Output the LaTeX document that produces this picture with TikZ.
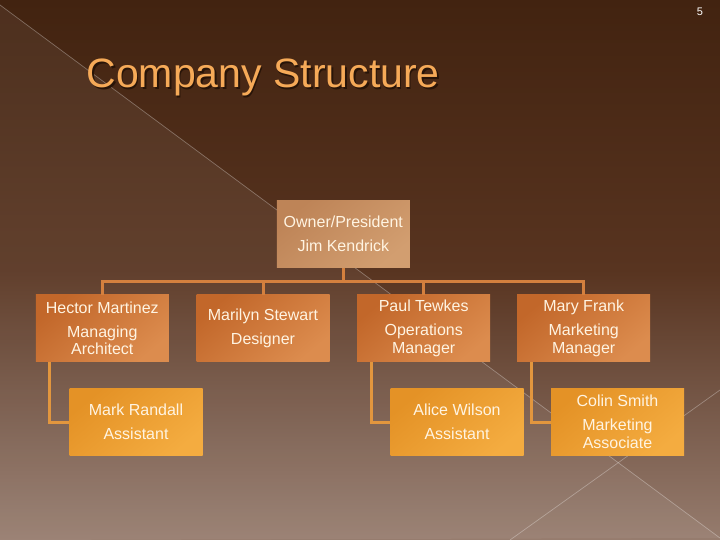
\documentclass[tikz,border=0pt]{standalone}
\usepackage{fontspec}
\setmainfont{Liberation Sans}
\usepackage{tikz}
\definecolor{bgtop}{RGB}{66,35,16}
\definecolor{bgmid}{RGB}{88,52,32}
\definecolor{bglow}{RGB}{118,88,72}
\definecolor{bgbot}{RGB}{150,124,110}
\definecolor{titleorange}{RGB}{246,170,88}
\definecolor{titleshadow}{RGB}{40,20,8}
\definecolor{ownerA}{RGB}{190,132,87}
\definecolor{ownerB}{RGB}{210,158,112}
\definecolor{midA}{RGB}{194,103,42}
\definecolor{midB}{RGB}{220,140,78}
\definecolor{lowA}{RGB}{228,146,38}
\definecolor{lowB}{RGB}{244,172,64}
\definecolor{busline}{RGB}{212,128,62}
\definecolor{subline}{RGB}{226,150,62}
\definecolor{cream}{RGB}{255,244,226}
\pgfdeclareverticalshading{slidebg}{100bp}{color(0bp)=(bgbot); color(25bp)=(bgbot); color(37.5bp)=(bglow); color(50bp)=(bgmid); color(75bp)=(bgtop); color(100bp)=(bgtop)}
\tikzset{
  orgbox/.style={minimum width=133pt, minimum height=67pt, inner sep=0pt, align=center,
    text=cream, font=\fontsize{16}{17.5}\selectfont},
  ownerbox/.style={orgbox, top color=ownerA, bottom color=ownerB, shading angle=40},
  midbox/.style={orgbox, top color=midA, bottom color=midB, shading angle=40},
  lowbox/.style={orgbox, top color=lowA, bottom color=lowB, shading angle=40},
  busconn/.style={draw=busline, line width=3pt},
  subconn/.style={draw=subline, line width=3pt}
}

\begin{document}
\begin{tikzpicture}[x=1pt,y=-1pt]
        \useasboundingbox (0,0) rectangle (720,540);
        \shade[shading=slidebg] (0,0) rectangle (720,540);
        \fill[white, opacity=0.06] (0,5) -- (720,538) -- (0,540) -- cycle;
        \draw[white, opacity=0.3, line width=0.7pt] (0,5) -- (720,538); \draw[white, opacity=0.3, line width=0.7pt] (510,540) -- (720,390);

        \node[anchor=base west, text=titleshadow, font=\fontsize{41}{42}\selectfont] (titleshade) at (84.5,89.5) {Company Structure};
        \node[anchor=base west, text=titleorange, font=\fontsize{41}{42}\selectfont] (title) at (83,88) {Company Structure};
        \node[text=white, font=\fontsize{11}{12}\selectfont] (pagenum) at (700,12) {5};

        \node[ownerbox] (owner) at (343.3,234) {Owner/President\\[6.5pt]Jim Kendrick};
        \node[midbox] (hector) at (102.3,328.3) {Hector Martinez\\[6.5pt]Managing\\Architect};
        \node[midbox] (marilyn) at (263,328.3) {Marilyn Stewart\\[6.5pt]Designer};
        \node[midbox] (paul) at (423.7,328.3) {Paul Tewkes\\[6.5pt]Operations\\Manager};
        \node[midbox] (mary) at (583.7,328.3) {Mary Frank\\[6.5pt]Marketing\\Manager};
        \node[lowbox] (mark) at (136,422) {Mark Randall\\[6.5pt]Assistant};
        \node[lowbox] (alice) at (457,422) {Alice Wilson\\[6.5pt]Assistant};
        \node[lowbox] (colin) at (617.5,422) {Colin Smith\\[6.5pt]Marketing\\Associate};

        \coordinate (bus) at (343.3,281);
        \draw[busconn] (owner.south) -- (bus); \draw[busconn] (hector.north) |- (bus) -| (mary.north);
        \draw[busconn] (marilyn.north) -- (marilyn.north |- bus); \draw[busconn] (paul.north) -- (paul.north |- bus);
        \draw[subconn] ([xshift=14pt]hector.south west) |- (mark.west); \draw[subconn] ([xshift=14pt]paul.south west) |- (alice.west); \draw[subconn] ([xshift=14pt]mary.south west) |- (colin.west);
    \end{tikzpicture}
\end{document}
